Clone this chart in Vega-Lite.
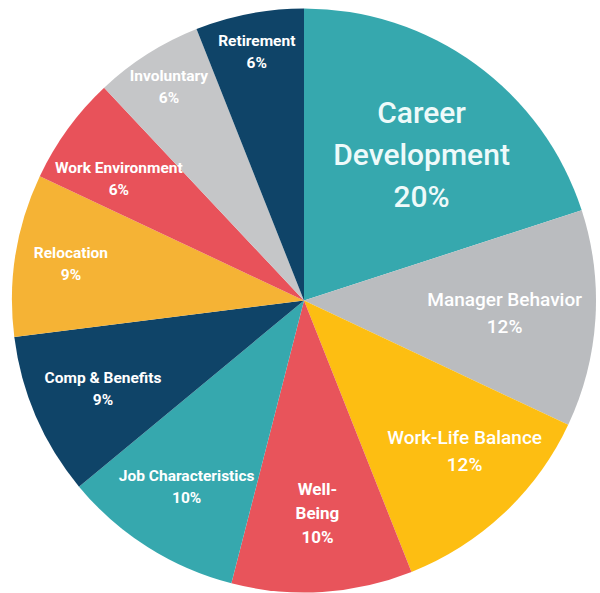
{
  "$schema": "https://vega.github.io/schema/vega-lite/v6.json",
  "width": 600,
  "height": 593,
  "autosize": {"type": "fit", "contains": "padding"},
  "padding": {"left": 8, "top": 8, "right": 0, "bottom": 0},
  "background": "white",
  "config": {"view": {"stroke": null}},
  "data": {
    "values": [
      {"cat": "Career Development", "value": 20, "rank": 1, "label": "Career\nDevelopment\n20%"},
      {"cat": "Manager Behavior", "value": 12, "rank": 2, "label": "Manager Behavior\n12%"},
      {"cat": "Work-Life Balance", "value": 12, "rank": 3, "label": "Work-Life Balance\n12%"},
      {"cat": "Well-Being", "value": 10, "rank": 4, "label": "Well-\nBeing\n10%"},
      {"cat": "Job Characteristics", "value": 10, "rank": 5, "label": "Job Characteristics\n10%"},
      {"cat": "Comp & Benefits", "value": 9, "rank": 6, "label": "Comp & Benefits\n9%"},
      {"cat": "Relocation", "value": 9, "rank": 7, "label": "Relocation\n9%"},
      {"cat": "Work Environment", "value": 6, "rank": 8, "label": "Work Environment\n6%"},
      {"cat": "Involuntary", "value": 6, "rank": 9, "label": "Involuntary\n6%"},
      {"cat": "Retirement", "value": 6, "rank": 10, "label": "Retirement\n6%"}
    ]
  },
  "encoding": {
    "theta": {"field": "value", "type": "quantitative", "stack": true},
    "order": {"field": "rank", "type": "quantitative"},
    "detail": {"field": "cat", "type": "nominal"}
  },
  "layer": [
    {
      "mark": {"type": "arc", "radius": 292, "strokeWidth": 0},
      "encoding": {
        "color": {
          "field": "cat",
          "type": "nominal",
          "legend": null,
          "scale": {
            "domain": ["Career Development", "Manager Behavior", "Work-Life Balance", "Well-Being", "Job Characteristics", "Comp & Benefits", "Relocation", "Work Environment", "Involuntary", "Retirement"],
            "range": ["#36A8AE", "#BABCBF", "#FDBE12", "#E8545B", "#36A8AE", "#0F4468", "#F5B335", "#E8525A", "#C5C6C8", "#0F4468"]
          }
        }
      }
    },
    {
      "mark": {"type": "text", "radius": 200, "dy": -25, "font": "Roboto", "fontSize": 30, "fontWeight": 500, "lineHeight": 42, "lineBreak": "\n", "fill": "#eefafa", "align": "center", "baseline": "middle"},
      "encoding": {"text": {"condition": {"test": "datum.cat === 'Career Development'", "field": "label"}, "value": ""}}
    },
    {
      "mark": {"type": "text", "radius": 201, "dy": -13, "font": "Roboto", "fontSize": 19, "fontWeight": 500, "lineHeight": 27, "lineBreak": "\n", "fill": "#ffffff", "align": "center", "baseline": "middle"},
      "encoding": {"text": {"condition": {"test": "datum.cat === 'Manager Behavior'", "field": "label"}, "value": ""}}
    },
    {
      "mark": {"type": "text", "radius": 220, "dx": 10, "dy": -23, "font": "Roboto", "fontSize": 19, "fontWeight": 500, "lineHeight": 27, "lineBreak": "\n", "fill": "#ffffff", "align": "center", "baseline": "middle"},
      "encoding": {"text": {"condition": {"test": "datum.cat === 'Work-Life Balance'", "field": "label"}, "value": ""}}
    },
    {
      "mark": {"type": "text", "radius": 214, "dy": -24, "font": "Roboto", "fontSize": 17, "fontWeight": "bold", "lineHeight": 24, "lineBreak": "\n", "fill": "#ffffff", "align": "center", "baseline": "middle"},
      "encoding": {"text": {"condition": {"test": "datum.cat === 'Well-Being'", "field": "label"}, "value": ""}}
    },
    {
      "mark": {"type": "text", "radius": 219, "dy": -9, "font": "Roboto", "fontSize": 15.5, "fontWeight": "bold", "lineHeight": 22, "lineBreak": "\n", "fill": "#ffffff", "align": "center", "baseline": "middle"},
      "encoding": {"text": {"condition": {"test": "datum.cat === 'Job Characteristics' || datum.cat === 'Comp & Benefits'", "field": "label"}, "value": ""}}
    },
    {
      "mark": {"type": "text", "radius": 219, "dx": -8, "dy": -4, "font": "Roboto", "fontSize": 15.5, "fontWeight": "bold", "lineHeight": 22, "lineBreak": "\n", "fill": "#ffffff", "align": "center", "baseline": "middle"},
      "encoding": {"text": {"condition": {"test": "datum.cat === 'Work Environment'", "field": "label"}, "value": ""}}
    },
    {
      "mark": {"type": "text", "radius": 236, "dy": -11, "font": "Roboto", "fontSize": 15.5, "fontWeight": "bold", "lineHeight": 22, "lineBreak": "\n", "fill": "#ffffff", "align": "center", "baseline": "middle"},
      "encoding": {"text": {"condition": {"test": "datum.cat === 'Relocation'", "field": "label"}, "value": ""}}
    },
    {
      "mark": {"type": "text", "radius": 252, "dy": -12, "font": "Roboto", "fontSize": 15.5, "fontWeight": "bold", "lineHeight": 22, "lineBreak": "\n", "fill": "#ffffff", "align": "center", "baseline": "middle"},
      "encoding": {"text": {"condition": {"test": "datum.cat === 'Involuntary' || datum.cat === 'Retirement'", "field": "label"}, "value": ""}}
    }
  ]
}
